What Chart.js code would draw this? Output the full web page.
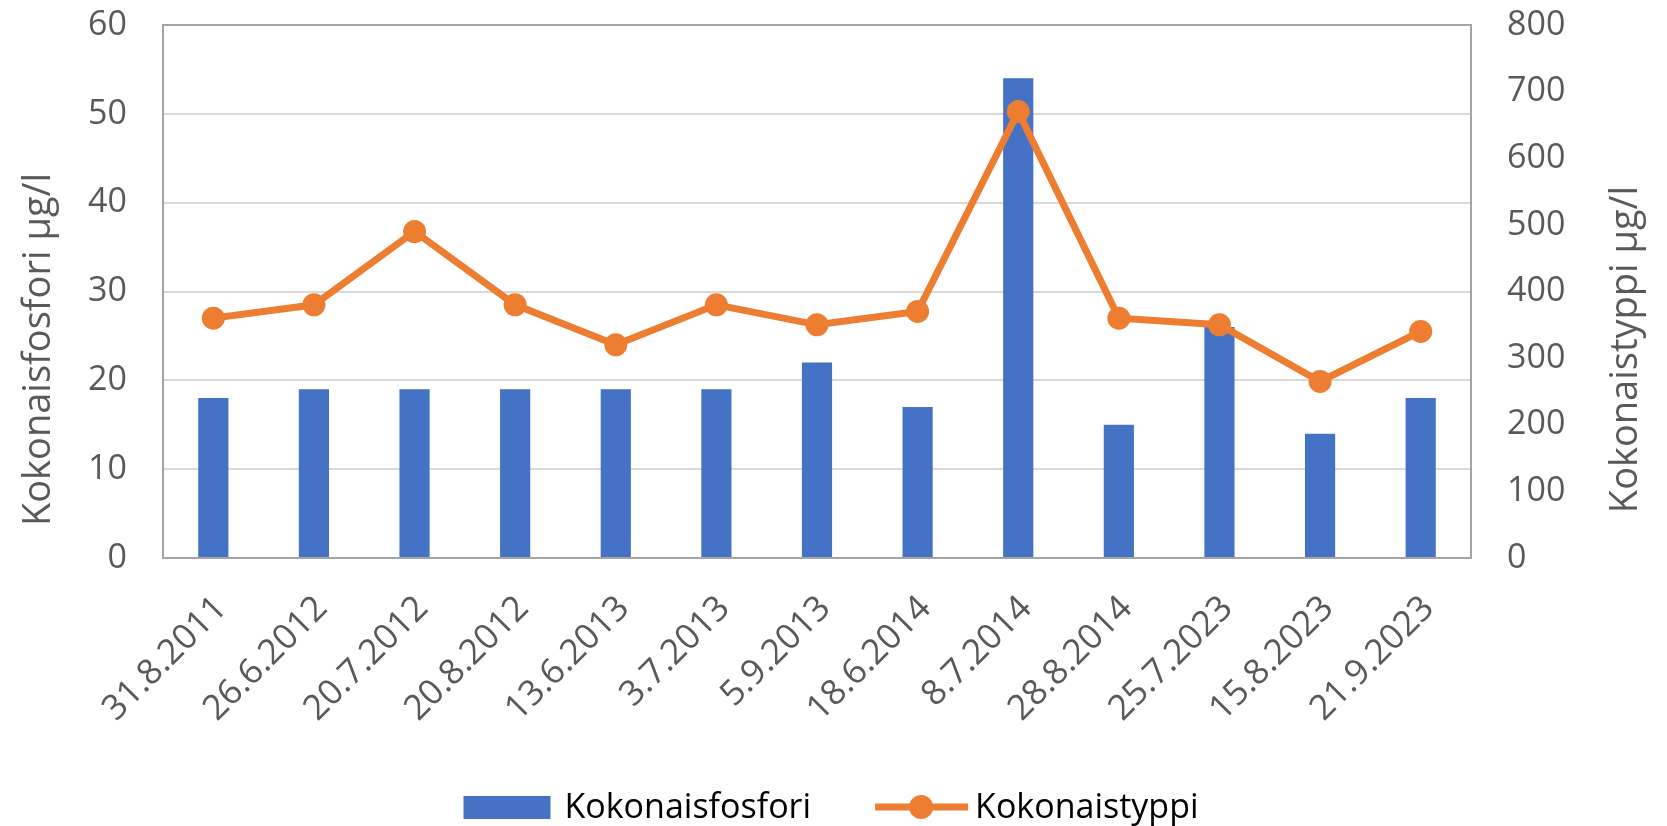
<!DOCTYPE html>
<html>
<head>
<meta charset="utf-8">
<script src="https://cdn.jsdelivr.net/npm/chart.js@4"></script>
<style>
  html, body { margin: 0; padding: 0; background: #fff; }
  #wrap { width: 1667px; height: 826px; position: relative; }
</style>
</head>
<body>
<div id="wrap"><canvas id="chart"></canvas></div>
<script>
// sample dates
const dates = ['31.8.2011', '26.6.2012', '20.7.2012', '20.8.2012', '13.6.2013', '3.7.2013',
    '5.9.2013', '18.6.2014', '8.7.2014', '28.8.2014', '25.7.2023', '15.8.2023', '21.9.2023'];

// Kokonaisfosfori (left axis) and Kokonaistyppi (right axis), µg/l
const phosphorus = [18, 19, 19, 19, 19, 19, 22, 17, 54, 15, 26, 14, 18];
const nitrogen = [360, 380, 490, 380, 320, 380, 350, 370, 670, 360, 350, 265, 340];

const leftTicks = [0, 10, 20, 30, 40, 50, 60];
const rightTicks = [0, 100, 200, 300, 400, 500, 600, 700, 800];

const seriesNames = ['Kokonaisfosfori', 'Kokonaistyppi'];
const axisNames = ['Kokonaisfosfori µg/l', 'Kokonaistyppi µg/l'];

const BLUE = '#4472C4';
const ORANGE = '#ED7D31';
const TEXT = '#595959';
const AXIS = '#a5a5a5';
const FONT = "'Open Sans', sans-serif";

// legend icons: canvas is as wide as box + gap, so its right edge is where the text starts
const ICON_W = 146;
function makeIcon(draw) {
    const c = document.createElement('canvas');
    c.width = ICON_W;
    c.height = 34;
    draw(c.getContext('2d'));
    return c;
}
const barIcon = makeIcon(g => {
    g.fillStyle = BLUE;
    g.fillRect(ICON_W - 101, 5, 87, 23);
});
const lineIcon = makeIcon(g => {
    g.strokeStyle = ORANGE;
    g.lineWidth = 7;
    g.beginPath();
    g.moveTo(ICON_W - 100, 16);
    g.lineTo(ICON_W - 7, 16);
    g.stroke();
    g.fillStyle = ORANGE;
    g.beginPath();
    g.arc(ICON_W - 54, 16, 12, 0, Math.PI * 2);
    g.fill();
});

// axis titles sit a bit below the middle of the plot, like in Excel
const axisTitles = {
    id: 'axisTitles',
    afterDraw(chart) {
        const { ctx, chartArea } = chart;
        const cy = (chartArea.top + chartArea.bottom) / 2 + 58;
        ctx.save();
        ctx.fillStyle = TEXT;
        ctx.font = `38px ${FONT}`;
        ctx.textAlign = 'center';
        ctx.textBaseline = 'middle';
        [[39, axisNames[0]], [chart.width - 41, axisNames[1]]].forEach(([x, text]) => {
            ctx.save();
            ctx.translate(x, cy);
            ctx.rotate(-Math.PI / 2);
            ctx.fillText(text, 0, 0);
            ctx.restore();
        });
        ctx.restore();
    }
};

const tickFont = { family: FONT, size: 34 };
// invisible tick marks push the labels away from the plot without padding the top
const hiddenTicks = { drawTicks: true, tickLength: 36, tickColor: 'rgba(0,0,0,0)' };

new Chart(document.getElementById('chart'), {
    data: {
        labels: dates,
        datasets: [
            {
                type: 'bar',
                label: seriesNames[0],
                data: phosphorus,
                backgroundColor: BLUE,
                yAxisID: 'y',
                barPercentage: 0.3,
                categoryPercentage: 1,
                order: 1
            },
            {
                type: 'line',
                label: seriesNames[1],
                data: nitrogen,
                borderColor: ORANGE,
                backgroundColor: ORANGE,
                borderWidth: 7,
                pointRadius: 11.5,
                pointBorderWidth: 0,
                pointBackgroundColor: ORANGE,
                tension: 0,
                yAxisID: 'y1',
                order: 0
            }
        ]
    },
    options: {
        responsive: true,
        maintainAspectRatio: false,
        animation: false,
        layout: { padding: { top: 25, left: 0, right: 0, bottom: -9 } },
        plugins: {
            tooltip: { enabled: false },
            legend: {
                position: 'bottom',
                fullSize: false,
                labels: {
                    color: TEXT,
                    font: { family: FONT, size: 34 },
                    usePointStyle: true,
                    pointStyleWidth: 112,
                    padding: 35,
                    generateLabels: () => [
                        { text: seriesNames[0], pointStyle: barIcon, fillStyle: BLUE, strokeStyle: BLUE, lineWidth: 0, datasetIndex: 0, hidden: false },
                        { text: seriesNames[1], pointStyle: lineIcon, fillStyle: ORANGE, strokeStyle: ORANGE, lineWidth: 0, datasetIndex: 1, hidden: false }
                    ]
                }
            }
        },
        scales: {
            x: {
                offset: true,
                grid: { display: false, drawTicks: false },
                border: { display: true, color: AXIS, width: 2 },
                ticks: {
                    color: TEXT,
                    font: { family: FONT, size: 35 },
                    minRotation: 45,
                    maxRotation: 45,
                    autoSkip: false,
                    padding: 30,
                    labelOffset: 8
                },
                afterFit: s => { s.height = 198; }
            },
            y: {
                position: 'left',
                min: leftTicks[0],
                max: leftTicks[leftTicks.length - 1],
                afterBuildTicks: s => { s.ticks = leftTicks.map(v => ({ value: v })); },
                grid: {
                    ...hiddenTicks,
                    lineWidth: 2,
                    color: c => c.tick && c.tick.value === leftTicks[leftTicks.length - 1] ? AXIS : '#d9d9d9'
                },
                border: { display: true, color: AXIS, width: 2 },
                ticks: { color: TEXT, font: tickFont, padding: 0 },
                afterFit: s => { s.width = 163; }
            },
            y1: {
                position: 'right',
                min: rightTicks[0],
                max: rightTicks[rightTicks.length - 1],
                afterBuildTicks: s => { s.ticks = rightTicks.map(v => ({ value: v })); },
                grid: { ...hiddenTicks, drawOnChartArea: false },
                border: { display: true, color: AXIS, width: 2 },
                ticks: { color: TEXT, font: tickFont, padding: 0 },
                afterFit: s => { s.width = 196; }
            }
        }
    },
    plugins: [axisTitles]
});
</script>
</body>
</html>
